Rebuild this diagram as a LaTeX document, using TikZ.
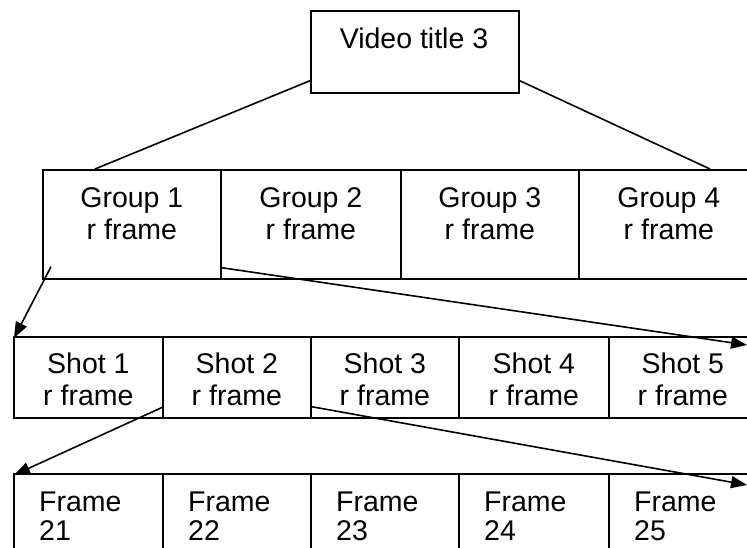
\documentclass[tikz,border=0pt]{standalone}
\usepackage{fontspec}
\setmainfont{Liberation Sans}
\usetikzlibrary{arrows.meta,calc}
\begin{document}
\begin{tikzpicture}[x=1pt,y=-1pt,
  cell/.style={draw,line width=1.7pt,rectangle,inner sep=0pt,anchor=north west},
  txt/.style={font=\fontsize{28.5}{32}\selectfont,align=center,inner sep=0pt},
  ltxt/.style={font=\fontsize{28.5}{28.5}\selectfont,align=left,inner sep=0pt,anchor=north west},
  conn/.style={line width=1.6pt},
  arr/.style={line width=1.6pt,-{Triangle[length=16pt,width=12pt]}}]
\useasboundingbox (0,0) rectangle (747,548);
\clip (0,0) rectangle (747,548);
% top box
\node[cell,minimum width=208pt,minimum height=82pt] (top) at (310,10) {};
\node[txt] (toptxt) at (414,38) {Video title 3};
% group row
\node[cell,minimum width=178pt,minimum height=109pt] (g1) at (42,169) {};
\node[cell,minimum width=180pt,minimum height=109pt] (g2) at (220,169) {};
\node[cell,minimum width=178pt,minimum height=109pt] (g3) at (400,169) {};
\node[cell,minimum width=180pt,minimum height=109pt] (g4) at (578,169) {};
\foreach \g/\n in {g1/1,g2/2,g3/3,g4/4}{
  \node[txt,anchor=north] (\g t) at ($(\g.north)+(0,18)$) {Group \n\\r frame};
}
% shot row
\node[cell,minimum width=149pt,minimum height=81pt] (s1) at (13,336) {};
\node[cell,minimum width=148pt,minimum height=81pt] (s2) at (162,336) {};
\node[cell,minimum width=148pt,minimum height=81pt] (s3) at (310,336) {};
\node[cell,minimum width=150pt,minimum height=81pt] (s4) at (458,336) {};
\node[cell,minimum width=148pt,minimum height=81pt] (s5) at (608,336) {};
\foreach \s/\n in {s1/1,s2/2,s3/3,s4/4,s5/5}{
  \node[txt,anchor=north] (\s t) at ($(\s.north)+(0,17)$) {Shot \n\\r frame};
}
% frame row
\node[cell,minimum width=149pt,minimum height=100pt] (f1) at (13,473) {};
\node[cell,minimum width=148pt,minimum height=100pt] (f2) at (162,473) {};
\node[cell,minimum width=148pt,minimum height=100pt] (f3) at (310,473) {};
\node[cell,minimum width=150pt,minimum height=100pt] (f4) at (458,473) {};
\node[cell,minimum width=148pt,minimum height=100pt] (f5) at (608,473) {};
\foreach \f/\n in {f1/21,f2/22,f3/23,f4/24,f5/25}{
  \node[ltxt] (\f t) at ($(\f.north west)+(26,19)$) {Frame\\\n};
}
% connectors
\draw[conn] ($(top.south west)+(0,-13)$) -- ($(g1.north west)+(53,0)$);
\draw[conn] ($(top.south east)+(0,-13)$) -- ($(g4.north west)+(132,0)$);
\coordinate (a1s) at ($(g1.south west)+(9,-13)$);
\coordinate (a2s) at ($(g1.south east)+(0,-12)$);
\coordinate (a2e) at ($(s5.north west)+(139,9)$);
\coordinate (a3s) at ($(s1.south east)+(0,-12)$);
\coordinate (a4s) at ($(s2.south east)+(0,-12)$);
\coordinate (a4e) at ($(f5.north west)+(139,12)$);
\draw[arr] (a1s) -- ($(s1.north west)+(1,2)$);
\draw[arr] (a2s) -- (a2e);
\draw[arr] (a3s) -- ($(f1.north west)+(1,2)$);
\draw[arr] (a4s) -- (a4e);
\end{tikzpicture}
\end{document}
